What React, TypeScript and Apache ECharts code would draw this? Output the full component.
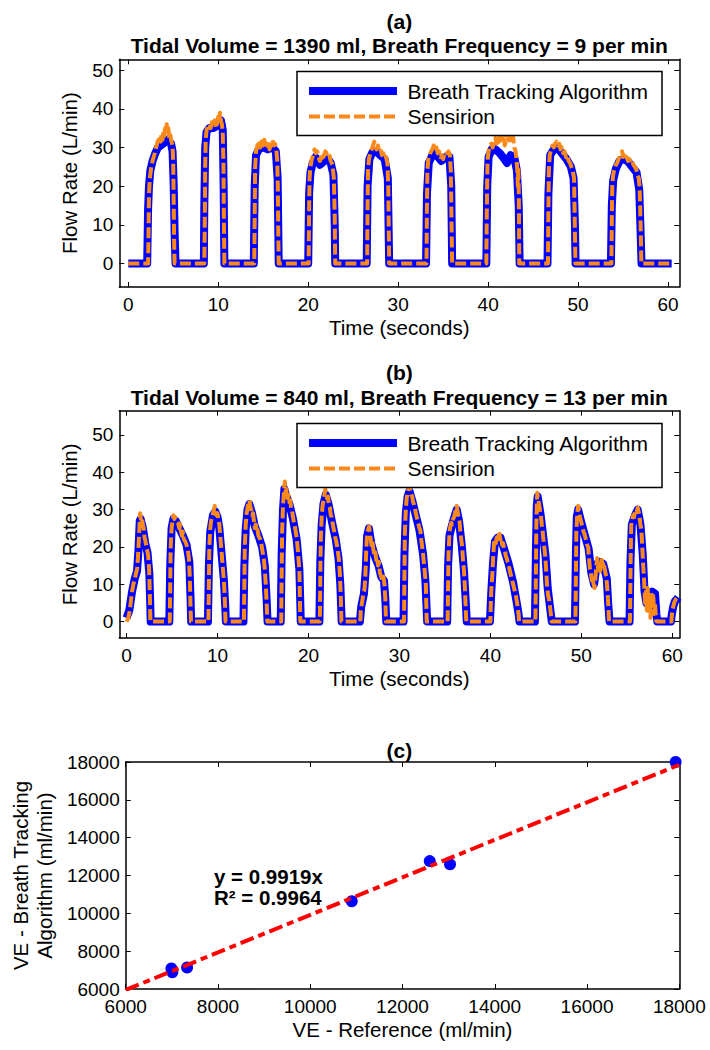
import React, { useEffect, useRef } from "react";
import * as echarts from "echarts";

const FONT = "'Liberation Sans', Arial, Helvetica, sans-serif";
const BLUE = "#0000FF";
const ORANGE = "#F98A1A";
const RED = "#FF0000";

// ---------- labels ----------
const panelTitles = ["(a)", "(b)", "(c)"];
const panelSubtitles = [
  "Tidal Volume = 1390 ml, Breath Frequency = 9 per min",
  "Tidal Volume = 840 ml, Breath Frequency = 13 per min",
];
const legendLabels = ["Breath Tracking Algorithm", "Sensirion"];
const timeAxisName = "Time (seconds)";
const flowAxisName = "Flow Rate (L/min)";
const veXAxisName = "VE - Reference (ml/min)";
const veYAxisName = "VE - Breath Tracking\nAlgorithm (ml/min)";
const fitLabels = ["y = 0.9919x", "R\u00B2 = 0.9964"];

// ---------- tick values ----------
const timeTicks = [0, 10, 20, 30, 40, 50, 60];
const flowTicks = [0, 10, 20, 30, 40, 50];
const veTicks = [6000, 8000, 10000, 12000, 14000, 16000, 18000];

// ---------- panel (a) data: [time s, flow L/min] ----------
const aAlgorithm = [
  [0, 0], [2.1, 0], [2.2, 14], [2.3, 20], [2.45, 24], [2.7, 26.5], [3.0, 28.5], [3.3, 30], [3.6, 30.5], [3.9, 31], [4.2, 32], [4.5, 31.5], [4.75, 31], [4.92, 29], [5.05, 20], [5.15, 8], [5.25, 0],
  [8.4, 0], [8.45, 15], [8.55, 30], [8.7, 34], [9.0, 35], [9.4, 35], [9.8, 35.5], [10.1, 36.5], [10.3, 37], [10.5, 34.5], [10.6, 20], [10.68, 0],
  [13.95, 0], [14.05, 20], [14.2, 28], [14.5, 29.5], [15.0, 30], [15.5, 29.5], [16.0, 30], [16.4, 29], [16.6, 22], [16.72, 0],
  [20.0, 0], [20.1, 18], [20.25, 23.5], [20.5, 26], [20.8, 27.5], [21.3, 25.5], [21.8, 26.5], [22.2, 27], [22.5, 26], [22.8, 23], [22.95, 10], [23.0, 0],
  [26.5, 0], [26.6, 20], [26.8, 27], [27.2, 29], [27.6, 29], [28.0, 28], [28.5, 27], [28.85, 22], [29.0, 0],
  [33.1, 0], [33.2, 18], [33.4, 26], [33.8, 28], [34.1, 28.5], [34.8, 26.5], [35.3, 27.5], [35.7, 27.5], [35.9, 20], [36.0, 0],
  [39.8, 0], [39.9, 20], [40.05, 27.5], [40.4, 29.5], [40.8, 29.5], [41.3, 28.5], [41.8, 27], [42.1, 26], [42.5, 28], [42.9, 27.5], [43.2, 24], [43.4, 15], [43.5, 0],
  [46.6, 0], [46.7, 18], [46.9, 28], [47.3, 29.5], [47.7, 30], [48.2, 28.5], [48.7, 27], [49.2, 25], [49.5, 22], [49.65, 10], [49.72, 0],
  [53.65, 0], [53.75, 15], [53.9, 21.5], [54.2, 24.5], [54.6, 26.5], [55.0, 27], [55.5, 26.5], [56.0, 25], [56.5, 23.5], [56.8, 19], [56.95, 8], [57.05, 0],
  [60.4, 0],
];
const aSensirion = [
  [0, 0], [2.2, 0], [2.25, 8], [2.3, 18], [2.4, 22], [2.55, 25], [2.75, 27], [2.95, 28.5], [3.1, 30], [3.25, 31.5], [3.4, 32], [3.5, 33], [3.6, 31.5], [3.7, 33.5], [3.8, 32], [3.9, 34], [4.0, 33], [4.1, 35], [4.2, 34], [4.27, 36], [4.35, 34], [4.45, 35], [4.55, 32.5], [4.65, 33.5], [4.75, 32], [4.85, 31], [4.95, 29], [5.0, 25], [5.05, 15], [5.1, 5], [5.15, 0],
  [8.45, 0], [8.5, 10], [8.55, 25], [8.6, 32], [8.7, 34.5], [8.85, 35.5], [9.0, 36], [9.15, 35], [9.3, 36.5], [9.45, 35.5], [9.6, 37], [9.75, 35], [9.9, 36.5], [10.0, 38], [10.1, 36.5], [10.2, 39], [10.3, 37], [10.4, 36], [10.5, 34], [10.58, 25], [10.63, 10], [10.68, 0],
  [14.0, 0], [14.05, 12], [14.1, 25], [14.2, 29], [14.35, 30.5], [14.5, 31], [14.65, 30], [14.8, 31.5], [14.95, 30.5], [15.1, 32], [15.25, 31], [15.4, 30.5], [15.55, 31.5], [15.7, 29.5], [15.85, 31], [16.0, 32], [16.15, 30.5], [16.3, 31], [16.45, 29.5], [16.55, 27], [16.62, 20], [16.67, 8], [16.72, 0],
  [20.05, 0], [20.1, 14], [20.15, 22], [20.25, 25], [20.4, 27], [20.55, 28], [20.7, 29.5], [20.85, 28.5], [21.0, 29], [21.15, 27.5], [21.3, 26.5], [21.45, 27.5], [21.6, 26.5], [21.75, 28], [21.9, 29], [22.05, 28.5], [22.2, 29], [22.35, 28], [22.5, 26.5], [22.7, 25.5], [22.85, 22], [22.95, 12], [23.0, 0],
  [26.55, 0], [26.6, 15], [26.65, 24], [26.75, 27], [26.9, 28.5], [27.05, 29.5], [27.2, 30.5], [27.35, 31.5], [27.5, 30], [27.6, 29.5], [27.75, 30.5], [27.9, 29], [28.05, 29.5], [28.2, 28], [28.35, 28.5], [28.5, 27], [28.65, 27.5], [28.8, 26], [28.9, 20], [28.95, 10], [29.0, 0],
  [33.15, 0], [33.2, 15], [33.25, 24], [33.35, 27], [33.5, 28], [33.65, 29], [33.8, 29.5], [33.95, 30.5], [34.1, 29.5], [34.25, 30], [34.4, 28.5], [34.55, 29], [34.7, 27.5], [34.85, 28], [35.0, 27], [35.15, 28.5], [35.3, 29], [35.45, 28.5], [35.6, 29], [35.75, 28], [35.85, 24], [35.92, 12], [36.0, 0],
  [39.8, 0], [39.85, 12], [39.9, 22], [39.95, 27], [40.05, 29], [40.2, 30.5], [40.35, 31], [40.5, 30], [40.65, 31.5], [40.8, 32.5], [40.95, 31], [41.1, 33], [41.25, 31.5], [41.4, 33.5], [41.55, 32], [41.7, 33.5], [41.85, 30.5], [42.0, 32], [42.15, 33.5], [42.3, 31], [42.45, 33], [42.6, 32], [42.75, 33.5], [42.9, 30], [43.05, 29], [43.15, 27], [43.25, 24], [43.3, 20], [43.36, 25], [43.42, 16], [43.46, 0],
  [46.65, 0], [46.7, 14], [46.75, 24], [46.85, 28], [47.0, 29.5], [47.15, 30.5], [47.3, 30], [47.45, 31], [47.6, 31.5], [47.75, 30.5], [47.9, 31], [48.05, 29.5], [48.2, 30], [48.35, 28.5], [48.5, 29], [48.65, 27.5], [48.8, 28], [48.95, 26.5], [49.1, 26], [49.25, 25], [49.4, 24], [49.55, 22], [49.62, 12], [49.7, 0],
  [53.7, 0], [53.75, 12], [53.8, 20], [53.9, 23], [54.05, 24.5], [54.2, 25.5], [54.35, 26], [54.5, 27], [54.65, 28], [54.8, 28.5], [54.9, 29], [55.0, 27.5], [55.1, 28], [55.25, 27], [55.4, 27.5], [55.55, 26.5], [55.7, 27], [55.85, 26], [56.0, 26.5], [56.15, 25.5], [56.3, 25], [56.45, 24.5], [56.6, 23], [56.75, 22], [56.85, 19], [56.95, 10], [57.03, 0],
  [60.4, 0],
];

// ---------- panel (b) data: [time s, flow L/min] ----------
const bAlgorithm = [
  [0, 1], [0.3, 3], [0.6, 8], [0.9, 11.5], [1.15, 13.5], [1.3, 19], [1.45, 27], [1.55, 27.5], [1.8, 25], [2.05, 21], [2.3, 18.5], [2.5, 13], [2.6, 5], [2.65, 0],
  [4.7, 0], [4.8, 15], [4.95, 25], [5.15, 27.5], [5.4, 27], [5.8, 25], [6.2, 23], [6.6, 20.5], [6.9, 16], [7.05, 5], [7.1, 0],
  [8.95, 0], [9.05, 15], [9.2, 24], [9.5, 28.5], [9.75, 29.5], [10.0, 28], [10.2, 25], [10.45, 18], [10.7, 11], [10.85, 4], [10.92, 0],
  [12.85, 0], [12.95, 15], [13.1, 25], [13.3, 30], [13.5, 31.5], [13.8, 29], [14.1, 25.5], [14.5, 23], [14.9, 20], [15.2, 15], [15.4, 6], [15.5, 0],
  [16.95, 0], [17.05, 18], [17.2, 30], [17.35, 35.5], [17.5, 34], [17.9, 31.5], [18.3, 27.5], [18.7, 22], [19.0, 14], [19.1, 5], [19.15, 0],
  [21.2, 0], [21.3, 16], [21.45, 26], [21.65, 31.5], [21.9, 34], [22.2, 31.5], [22.6, 26.5], [23.0, 22], [23.3, 17], [23.5, 10], [23.65, 0],
  [25.65, 0], [25.8, 4], [26.1, 7.5], [26.3, 14], [26.45, 23], [26.65, 25], [26.9, 21], [27.3, 17.5], [27.7, 15], [28.0, 12], [28.3, 11], [28.45, 6], [28.55, 0],
  [30.45, 0], [30.55, 18], [30.7, 29], [30.9, 33.5], [31.1, 35], [31.4, 32.5], [31.8, 28.5], [32.2, 24.5], [32.6, 18], [32.85, 11], [32.98, 4], [33.05, 0],
  [35.25, 0], [35.35, 15], [35.5, 23], [35.8, 26], [36.1, 28.5], [36.3, 30], [36.55, 27], [36.85, 20.5], [37.1, 13.5], [37.3, 5], [37.4, 0],
  [39.95, 0], [40.1, 8], [40.3, 16], [40.5, 21.5], [40.8, 22.5], [41.1, 22.5], [41.5, 19.5], [42.0, 15.5], [42.5, 10.5], [42.9, 5], [43.1, 2], [43.2, 0],
  [44.9, 0], [45.0, 18], [45.1, 31], [45.2, 33.5], [45.5, 29], [45.8, 23], [46.05, 18], [46.3, 9], [46.55, 4], [46.75, 0],
  [49.3, 0], [49.4, 18], [49.5, 28], [49.65, 30], [50.0, 26.5], [50.4, 23], [50.8, 19.5], [51.1, 13], [51.4, 10], [51.7, 15.5], [52.0, 16], [52.4, 15.5], [52.8, 11.5], [52.95, 5], [53.1, 0],
  [55.3, 0], [55.4, 16], [55.55, 26], [55.9, 28.5], [56.2, 30], [56.5, 26], [56.75, 18], [56.95, 8], [57.15, 5], [57.5, 6], [57.8, 8], [58.1, 7.5], [58.25, 2], [58.35, 0],
  [59.85, 0], [59.95, 2], [60.1, 4], [60.3, 5.5], [60.5, 6], [60.65, 6.5],
];
const bSensirion = [
  [0, 0], [0.2, 1], [0.35, 3], [0.5, 6], [0.6, 8], [0.75, 10], [0.9, 11.5], [1.05, 13], [1.15, 14], [1.25, 17], [1.35, 22], [1.45, 27], [1.5, 29], [1.58, 27.5], [1.68, 28], [1.78, 26], [1.88, 25], [1.98, 22.5], [2.08, 21.5], [2.18, 20], [2.28, 19], [2.38, 17.5], [2.48, 14], [2.55, 8], [2.62, 0],
  [4.75, 0], [4.8, 10], [4.85, 20], [4.95, 25], [5.05, 27], [5.15, 28.5], [5.25, 27.5], [5.35, 28], [5.5, 27], [5.65, 26.5], [5.8, 25], [5.9, 26], [6.0, 24], [6.1, 23], [6.2, 24], [6.3, 22], [6.45, 21.5], [6.6, 20.5], [6.75, 19], [6.85, 17], [6.95, 12], [7.02, 5], [7.08, 0],
  [9.0, 0], [9.05, 10], [9.1, 20], [9.2, 25], [9.3, 27], [9.45, 28.5], [9.6, 30], [9.7, 31], [9.8, 29.5], [9.9, 28.5], [10.0, 29], [10.1, 27], [10.2, 26], [10.3, 23], [10.4, 20], [10.5, 17], [10.6, 14], [10.7, 11], [10.8, 6], [10.88, 0],
  [12.9, 0], [12.95, 10], [13.0, 20], [13.1, 26], [13.2, 29], [13.3, 30.5], [13.4, 32], [13.5, 32.5], [13.6, 31], [13.7, 30], [13.8, 28.5], [13.9, 29], [14.0, 27], [14.1, 25], [14.2, 26], [14.3, 24], [14.4, 24.5], [14.5, 23], [14.6, 22.5], [14.7, 22], [14.8, 21], [14.9, 19.5], [15.0, 18], [15.1, 16.5], [15.2, 14], [15.3, 10], [15.4, 5], [15.48, 0],
  [17.0, 0], [17.05, 12], [17.1, 24], [17.2, 31], [17.3, 35], [17.4, 37.5], [17.5, 34], [17.6, 35.5], [17.7, 33], [17.8, 34], [17.9, 32], [18.0, 32.5], [18.1, 30], [18.2, 29.5], [18.3, 28], [18.4, 26.5], [18.5, 25.5], [18.6, 24], [18.7, 22.5], [18.8, 20], [18.9, 17], [19.0, 13.5], [19.05, 7], [19.1, 0],
  [21.25, 0], [21.3, 12], [21.35, 22], [21.45, 28], [21.55, 31], [21.65, 32.5], [21.75, 34], [21.85, 35.5], [21.95, 34.5], [22.05, 33], [22.15, 33.5], [22.25, 31], [22.35, 30.5], [22.45, 28.5], [22.55, 28], [22.65, 26.5], [22.75, 25], [22.85, 24], [22.95, 22.5], [23.05, 21.5], [23.15, 20], [23.25, 18.5], [23.35, 16.5], [23.45, 13], [23.55, 7], [23.62, 0],
  [25.7, 0], [25.75, 3], [25.85, 4.5], [25.95, 6], [26.05, 8], [26.15, 8.5], [26.25, 12], [26.35, 19], [26.45, 24], [26.55, 24.5], [26.65, 25.5], [26.75, 24], [26.85, 22], [26.95, 20], [27.05, 21], [27.15, 19], [27.25, 17.5], [27.35, 18.5], [27.45, 16.5], [27.55, 17], [27.65, 15], [27.75, 16], [27.85, 13], [27.95, 12.5], [28.05, 11.5], [28.15, 11], [28.25, 12], [28.35, 10], [28.45, 6], [28.52, 0],
  [30.5, 0], [30.55, 12], [30.6, 24], [30.7, 30], [30.8, 33], [30.9, 34.5], [31.0, 35.5], [31.1, 36.5], [31.2, 35], [31.3, 34], [31.4, 33.5], [31.5, 32], [31.6, 31.5], [31.7, 30.5], [31.8, 29], [31.9, 28], [32.0, 27], [32.1, 26], [32.2, 25], [32.3, 24.5], [32.4, 22], [32.5, 20], [32.6, 18], [32.7, 15.5], [32.8, 13], [32.9, 10], [32.95, 5], [33.0, 0],
  [35.3, 0], [35.35, 10], [35.4, 18], [35.5, 24], [35.6, 25.5], [35.7, 26.5], [35.8, 26], [35.9, 27.5], [36.0, 28], [36.1, 29], [36.2, 30], [36.3, 31], [36.4, 29.5], [36.5, 28], [36.6, 27], [36.7, 24], [36.8, 22], [36.9, 20], [37.0, 16], [37.1, 13.5], [37.2, 9], [37.28, 4], [37.35, 0],
  [40.0, 0], [40.05, 5], [40.1, 8.5], [40.2, 12], [40.3, 17], [40.4, 21], [40.5, 22], [40.6, 21], [40.7, 22.5], [40.8, 21.5], [40.9, 23], [41.0, 23.5], [41.1, 22], [41.2, 22.5], [41.3, 20.5], [41.4, 21], [41.5, 19.5], [41.6, 19], [41.7, 17.5], [41.8, 17], [41.9, 16], [42.0, 15.5], [42.1, 14], [42.2, 13], [42.3, 12], [42.4, 11], [42.5, 10], [42.6, 9], [42.7, 8], [42.8, 7], [42.9, 5.5], [43.0, 4], [43.1, 2], [43.15, 0],
  [44.95, 0], [45.0, 12], [45.05, 25], [45.1, 31], [45.15, 34.5], [45.25, 33], [45.35, 31.5], [45.45, 30], [45.55, 28.5], [45.65, 26], [45.75, 24], [45.85, 21.5], [45.95, 19.5], [46.05, 17], [46.15, 13], [46.25, 9], [46.35, 7], [46.45, 6], [46.55, 4], [46.65, 2], [46.72, 0],
  [49.35, 0], [49.4, 12], [49.45, 24], [49.55, 29], [49.65, 31], [49.75, 29.5], [49.85, 28], [49.95, 27], [50.05, 26], [50.15, 25], [50.25, 24], [50.35, 23.5], [50.45, 22.5], [50.55, 21.5], [50.65, 20.5], [50.75, 20], [50.85, 17], [50.95, 14], [51.05, 13], [51.15, 11], [51.25, 12], [51.35, 10], [51.45, 9], [51.55, 12], [51.65, 15], [51.75, 17], [51.85, 14], [51.95, 16], [52.05, 13.5], [52.15, 15], [52.25, 16.5], [52.35, 15], [52.45, 16], [52.55, 14.5], [52.65, 13], [52.75, 12], [52.85, 9], [52.95, 5], [53.05, 0],
  [55.35, 0], [55.4, 12], [55.45, 22], [55.5, 26.5], [55.6, 27.5], [55.7, 28.5], [55.8, 28], [55.9, 29.5], [56.0, 30], [56.1, 29.5], [56.2, 30.5], [56.3, 29.5], [56.4, 28], [56.5, 26], [56.6, 24.5], [56.7, 20], [56.8, 15], [56.9, 11], [57.0, 5], [57.1, 8], [57.2, 3], [57.3, 9], [57.4, 2], [57.5, 6], [57.6, 1], [57.7, 8], [57.8, 4], [57.9, 7.5], [58.0, 2], [58.1, 5], [58.2, 0.5], [58.3, 0],
  [59.9, 0], [60.0, 3], [60.2, 5], [60.4, 6], [60.6, 6.5],
];

// ---------- panel (c) data: [VE reference, VE algorithm] ml/min ----------
const veReference = [6990, 7010, 7330, 10900, 12590, 13030, 17920];
const veAlgorithm = [7080, 6880, 7140, 10640, 12760, 12590, 18000];
const fitLine = [[6000, 5951], [18000, 17854]];

// ---------- layout ----------
const GRID_LEFT = 119.3;
const GRID_W = 560;
const gridTops = [59.3, 410.7, 762];
const gridHeights = [227.7, 227.3, 227];
const xRanges = [[-1.0, 61.25], [-0.8, 60.77], [6000, 18000]];
const yRanges = [[-6.1, 52.8], [-4.4, 56.5], [6000, 18000]];

const tickLabelStyle = { fontSize: 19, color: "#000", fontFamily: FONT };
const nameStyle = { fontSize: 20.5, color: "#000", fontFamily: FONT };
const plain = (v: number) => String(v);

function xAxes(g: number, ticks: number[], name: string) {
  const base = {
    type: "value",
    gridIndex: g,
    min: xRanges[g][0],
    max: xRanges[g][1],
    splitLine: { show: false },
    axisLine: { show: true, onZero: false, lineStyle: { color: "#000", width: 1.5 } },
    axisTick: { show: true, inside: true, length: 5, customValues: ticks, lineStyle: { color: "#000", width: 1 } },
  };
  return [
    {
      ...base,
      position: "bottom",
      axisLabel: { ...tickLabelStyle, margin: 8, customValues: ticks, formatter: plain },
      name,
      nameLocation: "middle",
      nameGap: 30,
      nameTextStyle: nameStyle,
    },
    { ...base, position: "top", axisLabel: { show: false } },
  ];
}

function yAxes(g: number, ticks: number[], name: string, gap: number) {
  const base = {
    type: "value",
    gridIndex: g,
    min: yRanges[g][0],
    max: yRanges[g][1],
    splitLine: { show: false },
    axisLine: { show: true, onZero: false, lineStyle: { color: "#000", width: 1.5 } },
    axisTick: { show: true, inside: true, length: 5, customValues: ticks, lineStyle: { color: "#000", width: 1 } },
  };
  return [
    {
      ...base,
      position: "left",
      axisLabel: { ...tickLabelStyle, margin: 6, customValues: ticks, formatter: plain },
      name,
      nameLocation: "middle",
      nameGap: gap,
      nameTextStyle: { ...nameStyle, lineHeight: 24 },
    },
    { ...base, position: "right", axisLabel: { show: false } },
  ];
}

function legendGraphics(top: number) {
  const left = 297;
  return [
    {
      type: "rect",
      z: 100,
      shape: { x: left, y: top, width: 365, height: 64 },
      style: { fill: "#fff", stroke: "#000", lineWidth: 1.5 },
    },
    {
      type: "line",
      z: 101,
      shape: { x1: 309, y1: top + 19.5, x2: 397, y2: top + 19.5 },
      style: { stroke: BLUE, lineWidth: 8 },
    },
    {
      type: "line",
      z: 101,
      shape: { x1: 309, y1: top + 45, x2: 397, y2: top + 45 },
      style: { stroke: ORANGE, lineWidth: 4, lineDash: [11, 4] },
    },
    {
      type: "text",
      z: 101,
      x: 407.5,
      y: top + 19.5,
      style: { text: legendLabels[0], fontSize: 21, fontFamily: FONT, fill: "#000", align: "left", verticalAlign: "middle" },
    },
    {
      type: "text",
      z: 101,
      x: 407.5,
      y: top + 45,
      style: { text: legendLabels[1], fontSize: 21, fontFamily: FONT, fill: "#000", align: "left", verticalAlign: "middle" },
    },
  ];
}

function titleText(text: string, y: number) {
  return {
    type: "text",
    z: 101,
    x: GRID_LEFT + GRID_W / 2,
    y,
    style: { text, fontSize: 21, fontWeight: "bold", fontFamily: FONT, fill: "#000", align: "center", verticalAlign: "middle" },
  };
}

function flowSeries(g: number, algo: number[][], sens: number[][]) {
  return [
    {
      type: "line",
      name: legendLabels[0],
      xAxisIndex: g * 2,
      yAxisIndex: g * 2,
      data: algo,
      showSymbol: false,
      symbol: "none",
      silent: true,
      lineStyle: { color: BLUE, width: 8, join: "round", cap: "butt" },
      z: 2,
    },
    {
      type: "line",
      name: legendLabels[1],
      xAxisIndex: g * 2,
      yAxisIndex: g * 2,
      data: sens,
      showSymbol: false,
      symbol: "none",
      silent: true,
      lineStyle: { color: ORANGE, width: 4, type: [11, 4], join: "round" },
      z: 3,
    },
  ];
}

export default function App() {
  const ref = useRef<HTMLDivElement>(null);

  useEffect(() => {
    document.body.style.margin = "0";
    if (!ref.current) return;
    const chart = echarts.init(ref.current, null, { renderer: "svg" });

    const scatterData = veReference.map((x, i) => [x, veAlgorithm[i]]);

    const option: any = {
      animation: false,
      backgroundColor: "#fff",
      textStyle: { fontFamily: FONT },
      grid: gridTops.map((top, i) => ({
        left: GRID_LEFT,
        top,
        width: GRID_W,
        height: gridHeights[i],
        containLabel: false,
      })),
      xAxis: [
        ...xAxes(0, timeTicks, timeAxisName),
        ...xAxes(1, timeTicks, timeAxisName),
        ...xAxes(2, veTicks, veXAxisName),
      ],
      yAxis: [
        ...yAxes(0, flowTicks, flowAxisName, 32),
        ...yAxes(1, flowTicks, flowAxisName, 32),
        ...yAxes(2, veTicks, veYAxisName, 63),
      ],
      series: [
        ...flowSeries(0, aAlgorithm, aSensirion),
        ...flowSeries(1, bAlgorithm, bSensirion),
        {
          type: "scatter",
          name: "VE",
          xAxisIndex: 4,
          yAxisIndex: 4,
          data: scatterData,
          symbol: "circle",
          symbolSize: 12,
          clip: false,
          itemStyle: { color: BLUE, opacity: 1 },
          silent: true,
          z: 2,
        },
        {
          type: "line",
          name: "Fit",
          xAxisIndex: 4,
          yAxisIndex: 4,
          data: fitLine,
          showSymbol: false,
          symbol: "none",
          silent: true,
          lineStyle: { color: RED, width: 4, type: [14, 5, 7, 5] },
          z: 3,
        },
      ],
      graphic: [
        titleText(panelTitles[0], 21),
        titleText(panelSubtitles[0], 45),
        titleText(panelTitles[1], 372),
        titleText(panelSubtitles[1], 397),
        titleText(panelTitles[2], 750),
        ...legendGraphics(71.5),
        ...legendGraphics(423.5),
        {
          type: "text",
          z: 101,
          x: 214,
          y: 876,
          style: { text: fitLabels[0], fontSize: 20.5, fontWeight: "bold", fontFamily: FONT, fill: "#000", align: "left", verticalAlign: "middle" },
        },
        {
          type: "text",
          z: 101,
          x: 214,
          y: 897,
          style: { text: fitLabels[1], fontSize: 20.5, fontWeight: "bold", fontFamily: FONT, fill: "#000", align: "left", verticalAlign: "middle" },
        },
      ],
    };

    chart.setOption(option);
    return () => {
      chart.dispose();
    };
  }, []);

  return <div ref={ref} style={{ width: 710, height: 1050 }} />;
}
